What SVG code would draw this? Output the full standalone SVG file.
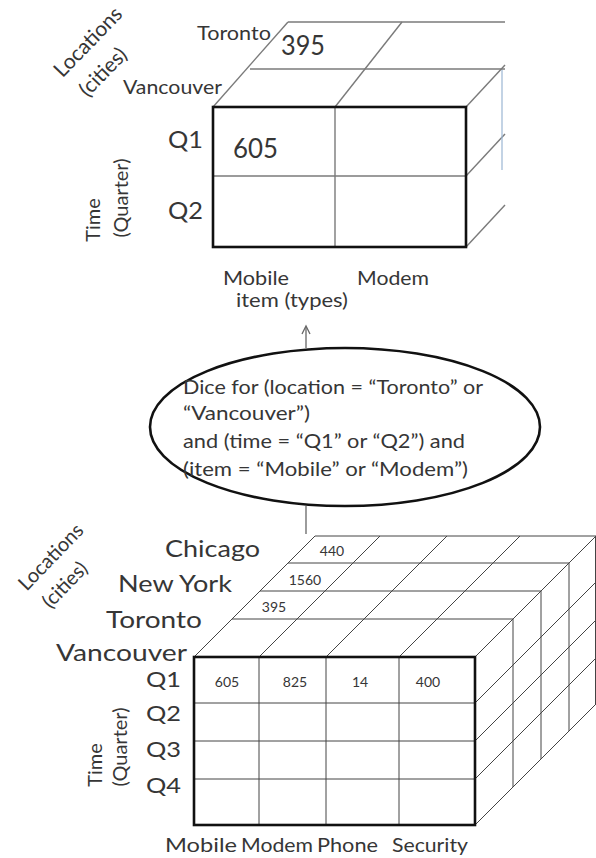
<svg xmlns="http://www.w3.org/2000/svg" width="596" height="858" viewBox="0 0 596 858">
<style>
  text { font-family: Lato, "Open Sans", "Liberation Sans", sans-serif; fill: #363636; }
  .lbl { font-size: 20px; }
  .big { font-size: 24px; }
  .q { font-size: 22px; }
  .num { font-size: 14px; text-anchor: middle; }
  .bignum { font-size: 27px; }
  .ell { font-size: 19px; }
  .front { fill: none; stroke: #111; stroke-width: 2.6; }
  .tl { fill: none; stroke: #7a7a7a; stroke-width: 1.4; }
  .bl { fill: none; stroke: #444; stroke-width: 1; }
  .conn { fill: none; stroke: #666; stroke-width: 1.3; }
  .rot { text-anchor: middle; dominant-baseline: central; }
</style>
<rect width="596" height="858" fill="#fff"/>

<g id="top-cube">
  <line class="tl" x1="288" y1="22" x2="505" y2="22"/>
  <line class="tl" x1="250" y1="69" x2="505" y2="69"/>
  <line class="tl" x1="213" y1="107" x2="288" y2="22"/>
  <line class="tl" x1="335" y1="107" x2="402" y2="22"/>
  <line class="tl" x1="466" y1="107" x2="505" y2="65"/>
  <line class="tl" x1="466" y1="176" x2="505" y2="134"/>
  <line class="tl" x1="466" y1="247" x2="505" y2="205"/>
  <line x1="502" y1="70" x2="502" y2="170" stroke="#9bb6d3" stroke-width="1.2"/>
  <line class="tl" x1="213" y1="176" x2="466" y2="176"/>
  <line class="tl" x1="335" y1="107" x2="335" y2="247"/>
  <rect class="front" x="213" y="107" width="253" height="140"/>
  <text class="rot" font-size="21" transform="translate(87,41) rotate(-46)">Locations</text>
  <text class="rot" font-size="21" transform="translate(102,71) rotate(-46)">(cities)</text>
  <text class="lbl" x="197" y="40" textLength="74" lengthAdjust="spacingAndGlyphs">Toronto</text>
  <text class="lbl" x="123" y="94" textLength="99" lengthAdjust="spacingAndGlyphs">Vancouver</text>
  <text class="bignum" x="281" y="55" textLength="44" lengthAdjust="spacingAndGlyphs">395</text>
  <text class="bignum" x="233" y="158" textLength="45" lengthAdjust="spacingAndGlyphs">605</text>
  <text class="big" x="168" y="148" textLength="35" lengthAdjust="spacingAndGlyphs">Q1</text>
  <text class="big" x="168" y="219" textLength="35" lengthAdjust="spacingAndGlyphs">Q2</text>
  <text class="lbl" text-anchor="middle" transform="translate(100,220) rotate(-90)">Time</text>
  <text class="lbl" text-anchor="middle" transform="translate(128,198) rotate(-90)">(Quarter)</text>
  <text class="lbl" x="223" y="285" textLength="66" lengthAdjust="spacingAndGlyphs">Mobile</text>
  <text class="lbl" x="357" y="285" textLength="72" lengthAdjust="spacingAndGlyphs">Modem</text>
  <text class="lbl" x="236" y="307" textLength="112" lengthAdjust="spacingAndGlyphs">item (types)</text>
</g>

<g id="connectors">
  <line class="conn" x1="306" y1="348" x2="306" y2="327"/>
  <polyline class="conn" points="302,334 306,326 310,334"/>
  <line class="conn" x1="306" y1="506" x2="306" y2="534"/>
</g>

<g id="dice-operation">
  <ellipse cx="345" cy="427" rx="195" ry="79" fill="#fff" stroke="#111" stroke-width="2.6"/>
  <text class="ell" x="183" y="394" textLength="300" lengthAdjust="spacingAndGlyphs">Dice for (location = “Toronto” or</text>
  <text class="ell" x="183" y="420" textLength="127" lengthAdjust="spacingAndGlyphs">“Vancouver”)</text>
  <text class="ell" x="183" y="448" textLength="282" lengthAdjust="spacingAndGlyphs">and (time = “Q1” or “Q2”) and</text>
  <text class="ell" x="183" y="476" textLength="285" lengthAdjust="spacingAndGlyphs">(item = “Mobile” or “Modem”)</text>
</g>

<g id="bottom-cube">
  <line class="bl" x1="232" y1="619" x2="513" y2="619"/>
  <line class="bl" x1="260" y1="591" x2="541" y2="591"/>
  <line class="bl" x1="288" y1="563" x2="569" y2="563"/>
  <line class="bl" x1="315" y1="536" x2="596" y2="536"/>
  <line class="bl" x1="194" y1="657" x2="315" y2="536"/>
  <line class="bl" x1="259" y1="657" x2="380" y2="536"/>
  <line class="bl" x1="326" y1="657" x2="447" y2="536"/>
  <line class="bl" x1="399" y1="657" x2="520" y2="536"/>
  <line class="bl" x1="475" y1="657" x2="596" y2="536"/>
  <line class="bl" x1="475" y1="703" x2="596" y2="582"/>
  <line class="bl" x1="475" y1="741" x2="596" y2="620"/>
  <line class="bl" x1="475" y1="779" x2="596" y2="658"/>
  <line class="bl" x1="475" y1="825" x2="596" y2="704"/>
  <line class="bl" x1="513" y1="619" x2="513" y2="787"/>
  <line class="bl" x1="541" y1="591" x2="541" y2="759"/>
  <line class="bl" x1="569" y1="563" x2="569" y2="731"/>
  <line class="bl" x1="595.5" y1="536" x2="595.5" y2="704"/>
  <line class="bl" x1="194" y1="703" x2="475" y2="703"/>
  <line class="bl" x1="194" y1="741" x2="475" y2="741"/>
  <line class="bl" x1="194" y1="779" x2="475" y2="779"/>
  <line class="bl" x1="259" y1="657" x2="259" y2="825"/>
  <line class="bl" x1="326" y1="657" x2="326" y2="825"/>
  <line class="bl" x1="399" y1="657" x2="399" y2="825"/>
  <rect class="front" x="194" y="657" width="281" height="168"/>

  <text class="num" x="332" y="556">440</text>
  <text class="num" x="305" y="585">1560</text>
  <text class="num" x="274" y="612">395</text>
  <text class="num" x="227" y="687">605</text>
  <text class="num" x="295" y="687">825</text>
  <text class="num" x="360" y="687">14</text>
  <text class="num" x="428" y="687">400</text>

  <text class="rot" font-size="20" transform="translate(50,556) rotate(-46)">Locations</text>
  <text class="rot" font-size="20" transform="translate(64,584) rotate(-46)">(cities)</text>
  <text class="big" x="165" y="557" textLength="95" lengthAdjust="spacingAndGlyphs">Chicago</text>
  <text class="big" x="118" y="592" textLength="114" lengthAdjust="spacingAndGlyphs">New York</text>
  <text class="big" x="106" y="628" textLength="96" lengthAdjust="spacingAndGlyphs">Toronto</text>
  <text class="big" x="56" y="661" font-size="23" textLength="131" lengthAdjust="spacingAndGlyphs">Vancouver</text>
  <text class="q" x="146" y="687" textLength="35" lengthAdjust="spacingAndGlyphs">Q1</text>
  <text class="q" x="146" y="721" textLength="35" lengthAdjust="spacingAndGlyphs">Q2</text>
  <text class="q" x="146" y="757" textLength="35" lengthAdjust="spacingAndGlyphs">Q3</text>
  <text class="q" x="146" y="793" textLength="35" lengthAdjust="spacingAndGlyphs">Q4</text>
  <text class="lbl" text-anchor="middle" transform="translate(102,765) rotate(-90)">Time</text>
  <text class="lbl" text-anchor="middle" transform="translate(127,747) rotate(-90)">(Quarter)</text>
  <text class="lbl" x="165" y="852" font-size="21" textLength="72" lengthAdjust="spacingAndGlyphs">Mobile</text>
  <text class="lbl" x="241" y="852" font-size="21" textLength="72" lengthAdjust="spacingAndGlyphs">Modem</text>
  <text class="lbl" x="317" y="852" font-size="21" textLength="61" lengthAdjust="spacingAndGlyphs">Phone</text>
  <text class="lbl" x="392" y="852" font-size="21" textLength="76" lengthAdjust="spacingAndGlyphs">Security</text>
</g>
</svg>
